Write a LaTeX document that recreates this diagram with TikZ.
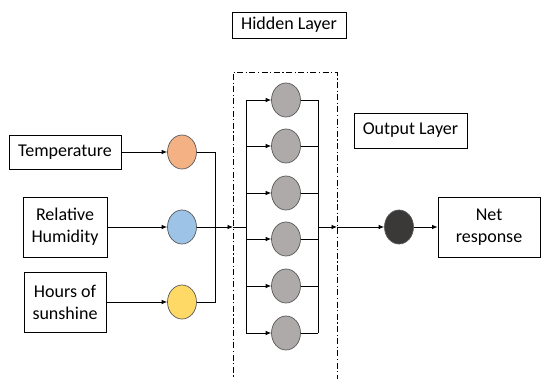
\documentclass[tikz,border=0pt]{standalone}
\usepackage{fontspec}
\setmainfont{Carlito}
\usetikzlibrary{shapes.geometric,arrows.meta}
\definecolor{corange}{HTML}{F4B183}
\definecolor{cblue}{HTML}{9DC3E6}
\definecolor{cyellow}{HTML}{FFD966}
\definecolor{cgray}{HTML}{AEAAAA}
\definecolor{cdark}{HTML}{3B3838}
\definecolor{cedge}{HTML}{595959}
\tikzset{
  lbl/.style={draw=black, line width=0.8pt, align=center, inner sep=0pt,
    font=\fontsize{18}{22}\selectfont},
  neuron/.style={ellipse, draw=cedge, line width=0.7pt, minimum width=29pt, minimum height=34pt, inner sep=0pt},
  wire/.style={line width=0.8pt},
  arr/.style={line width=0.8pt, -{Latex[length=5.5pt,width=4.5pt]}},
  frame/.style={line width=0.8pt, dash pattern=on 6pt off 2.5pt on 1.2pt off 2.5pt}
}
\begin{document}
\begin{tikzpicture}[x=1pt,y=-1pt]
\useasboundingbox (0,0) rectangle (541,378);
% labels
\node[lbl, minimum width=112pt, minimum height=34pt] (temp) at (65,152) {Temperature};
\node[lbl, minimum width=84pt, minimum height=60pt] (hum) at (65,227) {Relative\\Humidity};
\node[lbl, minimum width=82pt, minimum height=60pt] (sun) at (65,302) {Hours of\\sunshine};
\node[lbl, minimum width=114pt, minimum height=26pt] (hl) at (289,25) {Hidden Layer};
\node[lbl, minimum width=113pt, minimum height=35pt] (ol) at (410.5,130.5) {Output Layer};
\node[lbl, minimum width=102pt, minimum height=60pt] (net) at (489,227) {Net\\response};
% input neurons
\node[neuron, fill=corange] (i1) at (182,152) {};
\node[neuron, fill=cblue] (i2) at (182,227) {};
\node[neuron, fill=cyellow] (i3) at (182,302) {};
% hidden neurons
\foreach \k/\y in {1/100,2/146,3/193,4/239,5/286,6/333}{
  \node[neuron, fill=cgray] (h\k) at (286,\y) {};
}
% output neuron
\node[neuron, fill=cdark] (o) at (399,227) {};
% frame of hidden layer
\coordinate (fbl) at (233,385);
\coordinate (fbr) at (337,385);
\draw[frame] (fbl) |- (337,72) -- (fbr);
% input arrows
\draw[arr] (temp.east) -- (i1.west);
\draw[arr] (hum.east) -- (i2.west);
\draw[arr] (sun.east) -- (i3.west);
% input bus
\coordinate (ib1) at (215,152);
\coordinate (ib3) at (215,302);
\draw[wire] (i1.east) -- (ib1) -- (ib3) -- (i3.east);
% to hidden bus
\coordinate (hbin) at (233,227);
\coordinate (hb) at (246,227);
\draw[arr] (i2.east) -- (hbin);
\draw[wire] (hbin) -- (hb);
% hidden left bus
\coordinate (hlt) at (246,100);
\coordinate (hlb) at (246,333);
\draw[wire] (hlt) -- (hlb);
\foreach \k/\y in {1/100,2/146,3/193,4/239,5/286,6/333}{
  \coordinate (hl\k) at (246,\y);
  \draw[arr] (hl\k) -- (h\k.west);
  \coordinate (hr\k) at (318,\y);
  \draw[wire] (h\k.east) -- (hr\k);
}
\draw[wire] (hr1) -- (hr6);
% to output
\coordinate (hbo) at (318,227);
\coordinate (hbout) at (337,227);
\draw[arr] (hbo) -- (hbout);
\draw[arr] (hbout) -- (o.west);
\draw[arr] (o.east) -- (net.west);
\end{tikzpicture}
\end{document}
